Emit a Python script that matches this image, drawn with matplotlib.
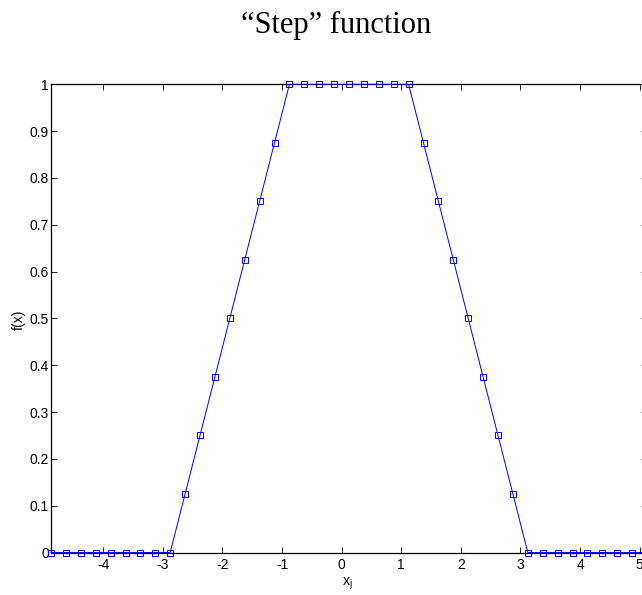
import matplotlib
matplotlib.use("Agg")
import matplotlib.pyplot as plt

# grid points x_j and the trapezoid "step" values f(x_j)
x_j = [-4.877, -4.627, -4.377, -4.127, -3.877, -3.627, -3.377, -3.127, -2.877,
       -2.627, -2.377, -2.127, -1.877, -1.627, -1.377, -1.127,
       -0.877, -0.627, -0.377, -0.127, 0.123, 0.373, 0.623, 0.873, 1.123,
       1.373, 1.623, 1.873, 2.123, 2.373, 2.623, 2.873,
       3.123, 3.373, 3.623, 3.873, 4.123, 4.373, 4.623, 4.873, 5.123]
f_x = [0, 0, 0, 0, 0, 0, 0, 0, 0,
       0.125, 0.25, 0.375, 0.5, 0.625, 0.75, 0.875,
       1, 1, 1, 1, 1, 1, 1, 1, 1,
       0.875, 0.75, 0.625, 0.5, 0.375, 0.25, 0.125,
       0, 0, 0, 0, 0, 0, 0, 0, 0]

xticks = [-4, -3, -2, -1, 0, 1, 2, 3, 4, 5]
yticks = [0, 0.1, 0.2, 0.3, 0.4, 0.5, 0.6, 0.7, 0.8, 0.9, 1]
ytick_labels = ["0", "0.1", "0.2", "0.3", "0.4", "0.5", "0.6", "0.7", "0.8", "0.9", "1"]

plt.rcParams["font.family"] = ["Liberation Sans", "DejaVu Sans"]
plt.rcParams["mathtext.fontset"] = "custom"
plt.rcParams["mathtext.rm"] = "Liberation Sans"
plt.rcParams["mathtext.it"] = "Liberation Sans"

fig = plt.figure(figsize=(6.42, 5.95), dpi=100)
# axes box runs a little past the right edge, as in the cropped original
ax = fig.add_axes([51 / 642, (595 - 552.5) / 595, 596 / 642, 468.2 / 595])

ax.plot(x_j, f_x, color="#0000ff", lw=0.7, marker="s", ms=4.6,
        mfc="none", mec="#0000ff", mew=0.7, clip_on=False, zorder=3)

ax.set_xlim(-4.877, 5.123)
ax.set_ylim(0, 1)
ax.set_xticks(xticks)
ax.set_xticklabels([str(t) for t in xticks])
ax.set_yticks(yticks)
ax.set_yticklabels(ytick_labels)
ax.tick_params(direction="in", length=4.5, width=0.6, labelsize=10,
               top=True, right=True, pad=4)
ax.tick_params(axis="y", pad=1.5)
for s in ax.spines.values():
    s.set_linewidth(0.9)

fig.text(347 / 642, 1 - 584 / 595, r"$\mathregular{x_j}$", fontsize=10,
         ha="center", va="center")
fig.text(19 / 642, 1 - 320 / 595, "f(x)", fontsize=10, rotation=90,
         ha="center", va="center")

fig.text(336.5 / 642, 1 - 25 / 595, "\u201cStep\u201d function",
         family="Liberation Serif", fontsize=22, ha="center", va="center")

fig.savefig("out.png", dpi=100)
